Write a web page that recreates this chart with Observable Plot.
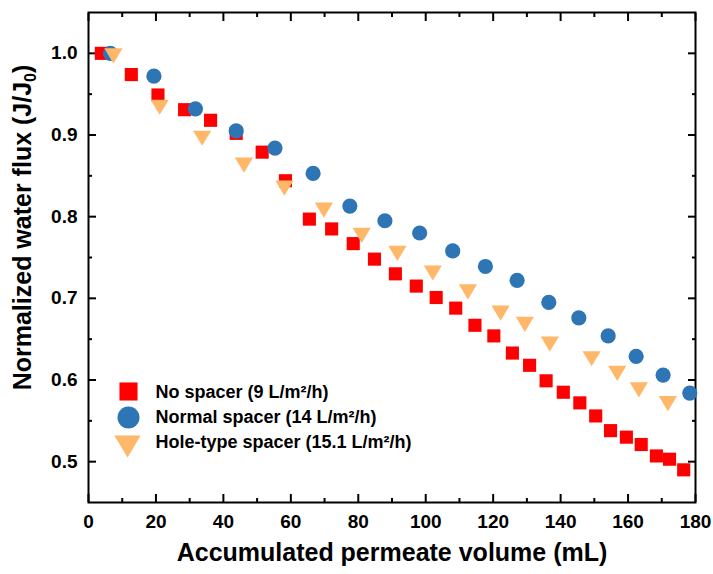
<!DOCTYPE html>
<html><head><meta charset="utf-8">
<script src="https://cdn.jsdelivr.net/npm/d3@7"></script>
<script src="https://cdn.jsdelivr.net/npm/@observablehq/plot@0.6"></script>
<style>html,body{margin:0;padding:0;background:#fff}</style>
</head><body><div id="chart"></div>
<script>
// ---- data ----
const seriesNames = ["No spacer (9 L/m²/h)", "Normal spacer (14 L/m²/h)", "Hole-type spacer (15.1 L/m²/h)"];
const seriesColors = ["#FF0000", "#2E75B6", "#FFB869"];

const noSpacerX = [3.8, 12.7, 20.6, 28.5, 36.2, 43.8, 51.5, 58.4, 65.5, 72.1, 78.5, 84.8, 91.0, 97.2, 103.1, 108.9, 114.6, 120.2, 125.7, 130.8, 135.7, 140.8, 145.7, 150.4, 154.8, 159.5, 163.9, 168.4, 172.3, 176.5];
const noSpacerY = [1.000, 0.974, 0.949, 0.931, 0.918, 0.902, 0.879, 0.844, 0.797, 0.785, 0.767, 0.748, 0.730, 0.715, 0.701, 0.688, 0.667, 0.654, 0.633, 0.618, 0.599, 0.585, 0.572, 0.556, 0.538, 0.530, 0.521, 0.507, 0.503, 0.490];

const normalX = [6.5, 19.4, 31.7, 43.8, 55.3, 66.6, 77.5, 87.9, 98.2, 108.0, 117.7, 127.1, 136.5, 145.4, 154.1, 162.4, 170.4, 178.3];
const normalY = [1.000, 0.972, 0.932, 0.905, 0.884, 0.853, 0.813, 0.795, 0.780, 0.758, 0.739, 0.722, 0.695, 0.676, 0.654, 0.629, 0.606, 0.584];

const holeX = [7.4, 21.1, 33.7, 46.1, 58.1, 69.8, 81.0, 91.6, 102.1, 112.5, 122.2, 129.4, 136.8, 149.2, 156.8, 163.2, 171.8];
const holeY = [0.997, 0.934, 0.896, 0.863, 0.835, 0.808, 0.777, 0.755, 0.731, 0.708, 0.682, 0.668, 0.644, 0.626, 0.608, 0.588, 0.571];

const xTicks = [0, 20, 40, 60, 80, 100, 120, 140, 160, 180];
const xMinorTicks = [10, 30, 50, 70, 90, 110, 130, 150, 170];
const yTicks = [0.5, 0.6, 0.7, 0.8, 0.9, 1.0];
const yMinorTicks = [0.55, 0.65, 0.75, 0.85, 0.95];

const xTitle = "Accumulated permeate volume (mL)";
const yTitle = "Normalized water flux (J/J0)";

// ---- build ----
const toRows = (xs, ys) => xs.map((x, i) => ({x, y: ys[i]}));
const noSpacer = toRows(noSpacerX, noSpacerY);
const normal = toRows(normalX, normalY);
const hole = toRows(holeX, holeY);

const FONT = "'Liberation Sans', Arial, Helvetica, sans-serif";
// downward triangle centred on its bounding box
const triDown = {
  draw(ctx, size) {
    const s = Math.sqrt(size / Math.PI);
    const hw = 1.2 * s, hh = s;
    ctx.moveTo(-hw, -hh); ctx.lineTo(hw, -hh); ctx.lineTo(0, hh); ctx.closePath();
  }
};

const fmt1 = d => d.toFixed(1);
const blank = () => "";

const chart = Plot.plot({
  width: 713, height: 574,
  marginLeft: 88, marginRight: 18, marginTop: 12, marginBottom: 72,
  style: {fontFamily: FONT, fontWeight: "bold", fontSize: "19px", color: "#000", background: "#fff"},
  x: {domain: [0, 180]},
  y: {domain: [0.45, 1.05]},
  marks: [
    Plot.frame({stroke: "#000", strokeWidth: 2}),
    // bottom axis
    Plot.axisX(xTicks, {anchor: "bottom", tickSize: -8, tickPadding: 8 + 12, strokeWidth: 2, label: null, fontSize: 19}),
    Plot.axisX(xMinorTicks, {anchor: "bottom", tickSize: -4, strokeWidth: 2, tickFormat: blank, label: null}),
    // top axis
    Plot.axisX(xTicks, {anchor: "top", tickSize: -8, strokeWidth: 2, tickFormat: blank, label: null}),
    Plot.axisX(xMinorTicks, {anchor: "top", tickSize: -4, strokeWidth: 2, tickFormat: blank, label: null}),
    // left axis
    Plot.axisY(yTicks, {anchor: "left", tickSize: -8, tickPadding: 8 + 11, strokeWidth: 2, tickFormat: fmt1, label: null, fontSize: 19}),
    Plot.axisY(yMinorTicks, {anchor: "left", tickSize: -4, strokeWidth: 2, tickFormat: blank, label: null}),
    // right axis
    Plot.axisY(yTicks, {anchor: "right", tickSize: -8, strokeWidth: 2, tickFormat: blank, label: null}),
    Plot.axisY(yMinorTicks, {anchor: "right", tickSize: -4, strokeWidth: 2, tickFormat: blank, label: null}),
    // axis titles
    Plot.text([xTitle], {frameAnchor: "bottom", lineAnchor: "middle", textAnchor: "middle", dy: 50, fontSize: 25, fontWeight: "bold"}),
    Plot.text([yTitle], {frameAnchor: "left", lineAnchor: "middle", textAnchor: "middle", dx: -66, dy: -30, rotate: -90, fontSize: 25, fontWeight: "bold"}),
    // data
    Plot.dot(noSpacer, {x: "x", y: "y", symbol: "square", r: 7.4, fill: seriesColors[0], stroke: null}),
    Plot.dot(normal, {x: "x", y: "y", symbol: "circle", r: 7.6, fill: seriesColors[1], stroke: null}),
    Plot.dot(hole, {x: "x", y: "y", symbol: triDown, r: 7.6, fill: seriesColors[2], stroke: null}),
    // legend
    Plot.dot([0], {frameAnchor: "top-left", dx: 40, dy: 379, symbol: "square", r: 10.2, fill: seriesColors[0], stroke: null}),
    Plot.dot([0], {frameAnchor: "top-left", dx: 40, dy: 405, symbol: "circle", r: 11, fill: seriesColors[1], stroke: null}),
    Plot.dot([0], {frameAnchor: "top-left", dx: 39, dy: 434, symbol: triDown, r: 11, fill: seriesColors[2], stroke: null}),
    Plot.text([seriesNames[0]], {frameAnchor: "top-left", lineAnchor: "middle", dx: 67, dy: 380, textAnchor: "start", fontSize: 18, fontWeight: "bold"}),
    Plot.text([seriesNames[1]], {frameAnchor: "top-left", lineAnchor: "middle", dx: 67, dy: 405, textAnchor: "start", fontSize: 18, fontWeight: "bold"}),
    Plot.text([seriesNames[2]], {frameAnchor: "top-left", lineAnchor: "middle", dx: 67, dy: 430, textAnchor: "start", fontSize: 18, fontWeight: "bold"})
  ]
});
document.getElementById("chart").appendChild(chart);

// subscript 0 in the y title
chart.querySelectorAll("text").forEach(t => {
  if (t.textContent === yTitle) {
    t.textContent = "Normalized water flux (J/J";
    const sub = document.createElementNS("http://www.w3.org/2000/svg", "tspan");
    sub.setAttribute("font-size", "16");
    sub.setAttribute("dy", "5");
    sub.textContent = "0";
    const close = document.createElementNS("http://www.w3.org/2000/svg", "tspan");
    close.setAttribute("dy", "-5");
    close.textContent = ")";
    t.appendChild(sub); t.appendChild(close);
  }
});
</script>
</body></html>
